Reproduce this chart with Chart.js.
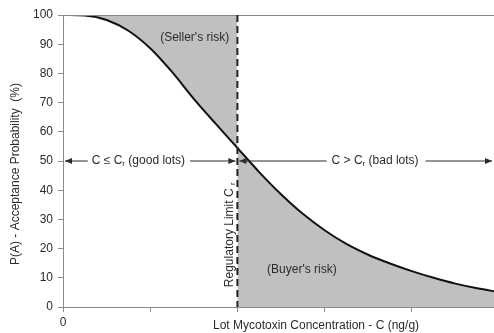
<!DOCTYPE html>
<html>
<head>
<meta charset="utf-8">
<script src="https://cdn.jsdelivr.net/npm/chart.js@4/dist/chart.umd.min.js"></script>
<style>
  html, body { margin: 0; padding: 0; background: #fff; overflow: hidden; }
  #wrap { width: 494px; height: 333px; overflow: hidden; }
</style>
</head>
<body>
<div id="wrap"><canvas id="oc" width="502" height="333"></canvas></div>
<script>
// OC curve: lot concentration (in multiples of the x tick spacing) vs acceptance probability (%)
const concentration = [0, 0.25, 0.5, 0.75, 1, 1.25, 1.5, 1.75, 2, 2.25, 2.5, 2.75, 3, 3.25, 3.5, 3.75, 4, 4.25, 4.5, 4.75, 5]
const acceptance = [100, 99.8, 98.3, 94.6, 88.6, 80.5, 71.3, 62.8, 54.5, 46.2, 38.6, 31.9, 26.3, 21.6, 17.9, 14.9, 12.3, 10.0, 8.0, 6.4, 5.1]
const regulatoryLimit = 2
const yTicks = [0, 10, 20, 30, 40, 50, 60, 70, 80, 90, 100]
const xTickLabels = ['0', '', '', '', '', '']

const FONT = '"Liberation Sans", Arial, sans-serif'
const TEXT = '#2b2b2b'
const AXIS = '#8a8a8a'
const SHADE = '#c0c0c0'

const points = concentration.map((c, i) => ({ x: c, y: acceptance[i] }))
const goodSide = points.filter(p => p.x <= regulatoryLimit)
const badSide = points.filter(p => p.x >= regulatoryLimit)

function arrowHead(ctx, x, y, dir) {
  ctx.beginPath()
  ctx.moveTo(x, y)
  ctx.lineTo(x - dir * 7, y - 3)
  ctx.lineTo(x - dir * 7, y + 3)
  ctx.closePath()
  ctx.fill()
}

// label with a subscript r after the last "C"
function drawCr(ctx, before, after, x, y) {
  ctx.font = '12px ' + FONT
  ctx.fillText(before, x, y)
  let w = ctx.measureText(before).width
  ctx.font = '8px ' + FONT
  ctx.fillText('r', x + w, y + 3)
  w += ctx.measureText('r').width
  ctx.font = '12px ' + FONT
  ctx.fillText(after, x + w, y)
  return w + ctx.measureText(after).width
}

function crWidth(ctx, before, after) {
  ctx.font = '12px ' + FONT
  let w = ctx.measureText(before).width + ctx.measureText(after).width
  ctx.font = '8px ' + FONT
  return w + ctx.measureText('r').width
}

const annotations = {
  id: 'annotations',
  afterDatasetsDraw(chart) {
    const { ctx, chartArea: a, scales: { x, y } } = chart
    const xc = x.getPixelForValue(regulatoryLimit)
    const y50 = y.getPixelForValue(50)
    ctx.save()

    // top frame line
    ctx.strokeStyle = AXIS
    ctx.lineWidth = 1
    ctx.beginPath()
    ctx.moveTo(a.left, a.top + 0.5)
    ctx.lineTo(a.right, a.top + 0.5)
    ctx.stroke()

    // regulatory limit
    ctx.strokeStyle = '#222'
    ctx.lineWidth = 2
    ctx.setLineDash([7, 4])
    ctx.beginPath()
    ctx.moveTo(xc, a.top)
    ctx.lineTo(xc, a.bottom)
    ctx.stroke()
    ctx.setLineDash([])

    ctx.fillStyle = TEXT
    ctx.strokeStyle = TEXT
    ctx.lineWidth = 1
    ctx.textBaseline = 'middle'
    ctx.textAlign = 'left'

    // good lots arrow
    const gx0 = a.left + 2, gx1 = xc - 2
    const gt = x.getPixelForValue(0.33)
    const gw = crWidth(ctx, 'C \u2264 C', ' (good lots)')
    ctx.beginPath()
    ctx.moveTo(gx0, y50); ctx.lineTo(gt - 4, y50)
    ctx.moveTo(gt + gw + 5, y50); ctx.lineTo(gx1, y50)
    ctx.stroke()
    arrowHead(ctx, gx0, y50, -1)
    arrowHead(ctx, gx1, y50, 1)
    drawCr(ctx, 'C \u2264 C', ' (good lots)', gt, y50)

    // bad lots arrow
    const bx0 = xc + 2, bx1 = x.getPixelForValue(4.92)
    const bt = x.getPixelForValue(3.08)
    const bw = crWidth(ctx, 'C > C', ' (bad lots)')
    ctx.beginPath()
    ctx.moveTo(bx0, y50); ctx.lineTo(bt - 5, y50)
    ctx.moveTo(bt + bw + 7, y50); ctx.lineTo(bx1, y50)
    ctx.stroke()
    arrowHead(ctx, bx0, y50, -1)
    arrowHead(ctx, bx1, y50, 1)
    drawCr(ctx, 'C > C', ' (bad lots)', bt, y50)

    // risk labels
    ctx.font = '12px ' + FONT
    ctx.textAlign = 'center'
    ctx.fillText("(Seller's risk)", x.getPixelForValue(1.51), y.getPixelForValue(92.2))
    ctx.fillText("(Buyer's risk)", x.getPixelForValue(2.74), y.getPixelForValue(12.7))

    // vertical limit label
    ctx.save()
    ctx.translate(xc - 8, y.getPixelForValue(6.8))
    ctx.rotate(-Math.PI / 2)
    ctx.textAlign = 'left'
    drawCr(ctx, 'Regulatory Limit C ', '', 0, 0)
    ctx.restore()

    // axis titles
    ctx.font = '12px ' + FONT
    ctx.textAlign = 'center'
    ctx.fillText('Lot Mycotoxin Concentration - C (ng/g)', 316, 326)
    ctx.save()
    ctx.translate(16, 174)
    ctx.rotate(-Math.PI / 2)
    ctx.fillText('P(A) - Acceptance Probability  (%)', 0, 0)
    ctx.restore()

    ctx.restore()
  }
}

new Chart(document.getElementById('oc'), {
  type: 'line',
  data: {
    datasets: [
      {
        // OC curve line
        data: points,
        borderColor: '#111',
        borderWidth: 2,
        fill: false,
        pointRadius: 0,
        cubicInterpolationMode: 'monotone'
      },
      {
        // seller's risk shading
        data: goodSide,
        borderWidth: 0,
        backgroundColor: SHADE,
        fill: { value: 100 },
        pointRadius: 0,
        cubicInterpolationMode: 'monotone'
      },
      {
        // buyer's risk shading
        data: badSide,
        borderWidth: 0,
        backgroundColor: SHADE,
        fill: 'origin',
        pointRadius: 0,
        cubicInterpolationMode: 'monotone'
      }
    ]
  },
  options: {
    responsive: false,
    animation: false,
    layout: { padding: { top: 15, left: 0, right: 1, bottom: 0 } },
    plugins: { legend: { display: false }, tooltip: { enabled: false } },
    scales: {
      x: {
        type: 'linear',
        min: 0,
        max: 5,
        afterFit: s => { s.height = 26 },
        afterBuildTicks: s => { s.ticks = xTickLabels.map((_, i) => ({ value: i })) },
        ticks: {
          autoSkip: false,
          padding: 3,
          color: TEXT,
          font: { family: FONT, size: 12 },
          callback: (v, i) => xTickLabels[i]
        },
        grid: { drawOnChartArea: false, tickLength: 5, color: AXIS, tickColor: AXIS },
        border: { color: AXIS, width: 1 }
      },
      y: {
        min: 0,
        max: 100,
        afterFit: s => { s.width = 63 },
        afterBuildTicks: s => { s.ticks = yTicks.map(v => ({ value: v })) },
        ticks: {
          padding: 5,
          color: TEXT,
          font: { family: FONT, size: 12 }
        },
        grid: { drawOnChartArea: false, tickLength: 5, color: AXIS, tickColor: AXIS },
        border: { color: AXIS, width: 1 }
      }
    }
  },
  plugins: [annotations]
})
</script>
</body>
</html>
